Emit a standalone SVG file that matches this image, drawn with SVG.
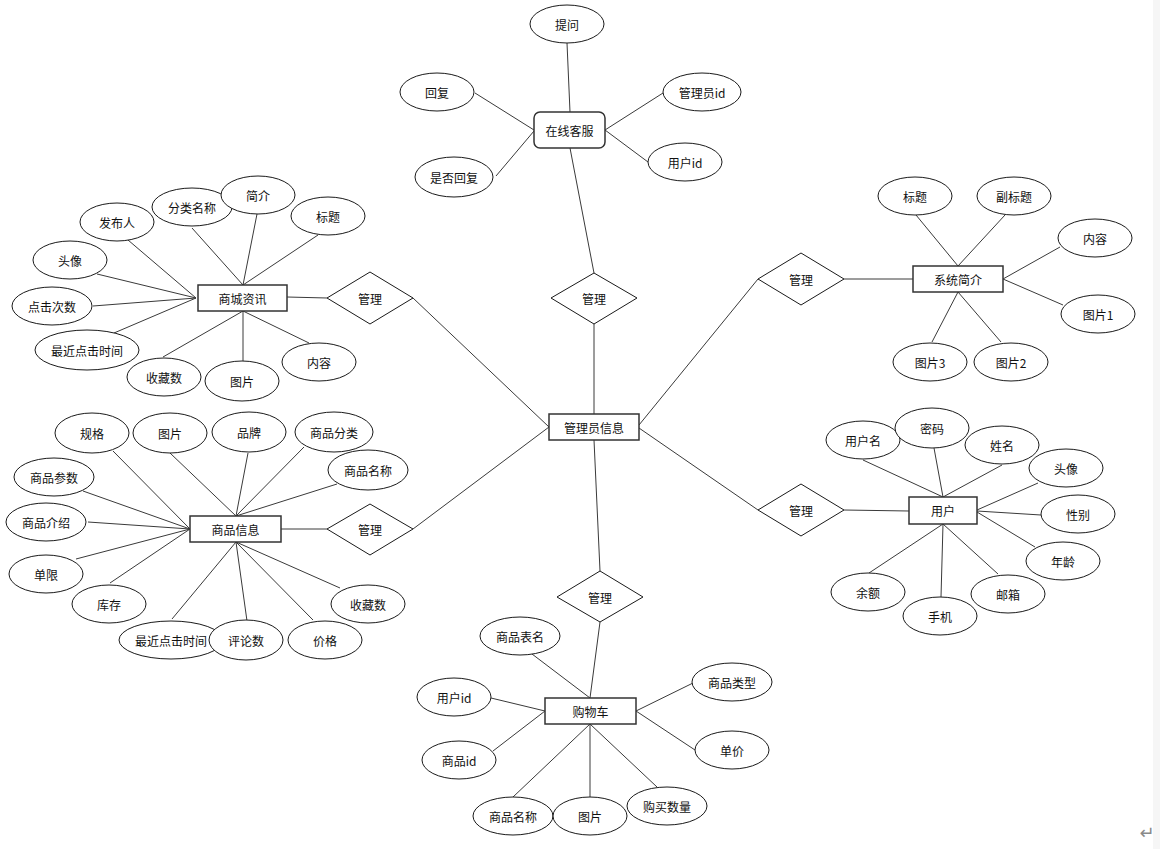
<svg xmlns="http://www.w3.org/2000/svg" width="1160" height="849" viewBox="0 0 1160 849">
<style>
.bg{fill:#ffffff}
.a{fill:#ffffff;stroke:#1a1a1a;stroke-width:1}
.e{fill:#ffffff;stroke:#333333;stroke-width:1.5}
.r{fill:#ffffff;stroke:#1a1a1a;stroke-width:1}
.c line{stroke:#3a3a3a;stroke-width:1}
text{font-family:"Noto Sans CJK SC","Noto Sans",sans-serif;font-size:12px;fill:#111111;text-anchor:middle;dominant-baseline:central}
</style>
<rect class="bg" x="0" y="0" width="1160" height="849"/>
<rect x="1153" y="0" width="7" height="849" fill="#f6f6f6"/>
<g id="connectors" class="c">
<!-- 在线客服 -->
<line x1="567" y1="43" x2="570" y2="112"/>
<line x1="475" y1="93" x2="534" y2="130"/>
<line x1="496" y1="176" x2="534" y2="131"/>
<line x1="663" y1="93" x2="605" y2="130"/>
<line x1="605" y1="130" x2="648" y2="162"/>
<line x1="570" y1="148" x2="594" y2="273"/>
<line x1="594" y1="324" x2="594" y2="414"/>
<!-- 商城资讯 -->
<line x1="128" y1="240" x2="196" y2="298"/>
<line x1="192" y1="228" x2="243" y2="285"/>
<line x1="257" y1="214" x2="243" y2="285"/>
<line x1="318" y1="235" x2="243" y2="285"/>
<line x1="97" y1="274" x2="196" y2="298"/>
<line x1="93" y1="306" x2="196" y2="298"/>
<line x1="114" y1="333" x2="196" y2="298"/>
<line x1="163" y1="357" x2="243" y2="311"/>
<line x1="243" y1="311" x2="243" y2="362"/>
<line x1="243" y1="311" x2="309" y2="343"/>
<line x1="287" y1="297" x2="327" y2="298"/>
<line x1="413" y1="298" x2="549" y2="427"/>
<!-- 商品信息 -->
<line x1="113" y1="451" x2="190" y2="529"/>
<line x1="170" y1="453" x2="236" y2="516"/>
<line x1="248" y1="453" x2="236" y2="516"/>
<line x1="304" y1="447" x2="236" y2="516"/>
<line x1="337" y1="484" x2="236" y2="516"/>
<line x1="83" y1="491" x2="190" y2="529"/>
<line x1="88" y1="522" x2="190" y2="529"/>
<line x1="76" y1="559" x2="190" y2="529"/>
<line x1="110" y1="583" x2="190" y2="529"/>
<line x1="172" y1="619" x2="236" y2="542"/>
<line x1="247" y1="621" x2="236" y2="542"/>
<line x1="313" y1="620" x2="236" y2="542"/>
<line x1="340" y1="588" x2="236" y2="542"/>
<line x1="281" y1="529" x2="327" y2="529"/>
<line x1="413" y1="529" x2="549" y2="427"/>
<!-- 系统简介 -->
<line x1="916" y1="215" x2="958" y2="266"/>
<line x1="1005" y1="215" x2="958" y2="266"/>
<line x1="1060" y1="247" x2="1003" y2="279"/>
<line x1="1063" y1="305" x2="1003" y2="279"/>
<line x1="932" y1="342" x2="958" y2="292"/>
<line x1="1001" y1="342" x2="958" y2="292"/>
<line x1="844" y1="279" x2="913" y2="279"/>
<line x1="758" y1="279" x2="639" y2="425"/>
<!-- 用户 -->
<line x1="863" y1="460" x2="943" y2="497"/>
<line x1="934" y1="448" x2="943" y2="497"/>
<line x1="1002" y1="465" x2="943" y2="497"/>
<line x1="1038" y1="483" x2="977" y2="510"/>
<line x1="1041" y1="515" x2="977" y2="511"/>
<line x1="1035" y1="547" x2="977" y2="512"/>
<line x1="869" y1="573" x2="943" y2="524"/>
<line x1="941" y1="597" x2="943" y2="524"/>
<line x1="998" y1="574" x2="943" y2="524"/>
<line x1="844" y1="510" x2="909" y2="511"/>
<line x1="758" y1="510" x2="639" y2="428"/>
<!-- 购物车 -->
<line x1="594" y1="440" x2="600" y2="571"/>
<line x1="600" y1="622" x2="590" y2="698"/>
<line x1="532" y1="654" x2="590" y2="698"/>
<line x1="491" y1="698" x2="545" y2="711"/>
<line x1="493" y1="751" x2="545" y2="711"/>
<line x1="513" y1="797" x2="590" y2="724"/>
<line x1="590" y1="797" x2="590" y2="724"/>
<line x1="657" y1="787" x2="590" y2="724"/>
<line x1="693" y1="683" x2="636" y2="711"/>
<line x1="695" y1="750" x2="636" y2="711"/>
</g>

<g id="n-admin"><rect class="e" x="549" y="414" width="90" height="26"/><text x="594" y="427">管理员信息</text></g>

<g id="n-kefu"><rect class="e" x="534" y="112" width="71" height="36" rx="6"/><text x="569.5" y="130">在线客服</text></g>
<g id="a-tiwen"><ellipse class="a" cx="567" cy="24" rx="37" ry="19"/><text x="567" y="24">提问</text></g>
<g id="a-huifu"><ellipse class="a" cx="437" cy="92" rx="37" ry="19"/><text x="437" y="92">回复</text></g>
<g id="a-shifouhuifu"><ellipse class="a" cx="454" cy="177" rx="39" ry="20"/><text x="454" y="177">是否回复</text></g>
<g id="a-adminid"><ellipse class="a" cx="702" cy="92" rx="39" ry="19"/><text x="702" y="92">管理员id</text></g>
<g id="a-userid1"><ellipse class="a" cx="685" cy="162" rx="37" ry="19"/><text x="685" y="162">用户id</text></g>
<g id="r-kefu"><polygon class="a" points="551,298 594,273 637,298 594,324"/><text x="594" y="298">管理</text></g>

<g id="n-news"><rect class="e" x="198" y="285" width="89" height="26"/><text x="242.5" y="298">商城资讯</text></g>
<g id="r-news"><polygon class="a" points="327,298 370,272 413,298 370,324"/><text x="370" y="298">管理</text></g>
<g id="a-fabuen"><ellipse class="a" cx="117" cy="222" rx="37" ry="19"/><text x="117" y="222">发布人</text></g>
<g id="a-fenlei"><ellipse class="a" cx="192" cy="207" rx="40" ry="19"/><text x="192" y="207">分类名称</text></g>
<g id="a-jianjie"><ellipse class="a" cx="258" cy="195" rx="37" ry="19"/><text x="258" y="195">简介</text></g>
<g id="a-biaoti1"><ellipse class="a" cx="328" cy="216" rx="37" ry="19"/><text x="328" y="216">标题</text></g>
<g id="a-touxiang1"><ellipse class="a" cx="70" cy="260" rx="37" ry="19"/><text x="70" y="260">头像</text></g>
<g id="a-dianji1"><ellipse class="a" cx="52" cy="306" rx="40" ry="19"/><text x="52" y="306">点击次数</text></g>
<g id="a-zuijin1"><ellipse class="a" cx="87" cy="350" rx="52" ry="20"/><text x="87" y="350">最近点击时间</text></g>
<g id="a-shoucang1"><ellipse class="a" cx="164" cy="377" rx="37" ry="19"/><text x="164" y="377">收藏数</text></g>
<g id="a-tupian1"><ellipse class="a" cx="242" cy="381" rx="37" ry="20"/><text x="242" y="381">图片</text></g>
<g id="a-neirong1"><ellipse class="a" cx="319" cy="362" rx="37" ry="19"/><text x="319" y="362">内容</text></g>

<g id="n-goods"><rect class="e" x="190" y="516" width="91" height="26"/><text x="235.5" y="529">商品信息</text></g>
<g id="r-goods"><polygon class="a" points="327,529 370,504 413,529 370,555"/><text x="370" y="529">管理</text></g>
<g id="a-guige"><ellipse class="a" cx="92" cy="433" rx="37" ry="20"/><text x="92" y="433">规格</text></g>
<g id="a-tupian2"><ellipse class="a" cx="170" cy="433" rx="37" ry="20"/><text x="170" y="433">图片</text></g>
<g id="a-pinpai"><ellipse class="a" cx="249" cy="432" rx="37" ry="20"/><text x="249" y="432">品牌</text></g>
<g id="a-spfenlei"><ellipse class="a" cx="334" cy="432" rx="39" ry="20"/><text x="334" y="432">商品分类</text></g>
<g id="a-spmingcheng"><ellipse class="a" cx="368" cy="470" rx="40" ry="20"/><text x="368" y="470">商品名称</text></g>
<g id="a-spcanshu"><ellipse class="a" cx="54" cy="477" rx="40" ry="19"/><text x="54" y="477">商品参数</text></g>
<g id="a-spjieshao"><ellipse class="a" cx="46" cy="522" rx="40" ry="19"/><text x="46" y="522">商品介绍</text></g>
<g id="a-danxian"><ellipse class="a" cx="46" cy="574" rx="37" ry="19"/><text x="46" y="574">单限</text></g>
<g id="a-kucun"><ellipse class="a" cx="109" cy="604" rx="37" ry="19"/><text x="109" y="604">库存</text></g>
<g id="a-zuijin2"><ellipse class="a" cx="171" cy="640" rx="52" ry="19"/><text x="171" y="640">最近点击时间</text></g>
<g id="a-pinglun"><ellipse class="a" cx="246" cy="640" rx="37" ry="20"/><text x="246" y="640">评论数</text></g>
<g id="a-jiage"><ellipse class="a" cx="325" cy="640" rx="37" ry="19"/><text x="325" y="640">价格</text></g>
<g id="a-shoucang2"><ellipse class="a" cx="368" cy="604" rx="37" ry="19"/><text x="368" y="604">收藏数</text></g>

<g id="n-intro"><rect class="e" x="913" y="266" width="90" height="26"/><text x="958" y="279">系统简介</text></g>
<g id="r-intro"><polygon class="a" points="758,279 801,253 844,279 801,305"/><text x="801" y="279">管理</text></g>
<g id="a-biaoti2"><ellipse class="a" cx="915" cy="196" rx="37" ry="19"/><text x="915" y="196">标题</text></g>
<g id="a-fubiaoti"><ellipse class="a" cx="1014" cy="196" rx="37" ry="19"/><text x="1014" y="196">副标题</text></g>
<g id="a-neirong2"><ellipse class="a" cx="1095" cy="238" rx="37" ry="19"/><text x="1095" y="238">内容</text></g>
<g id="a-tupian_1"><ellipse class="a" cx="1098" cy="314" rx="37" ry="19"/><text x="1098" y="314">图片1</text></g>
<g id="a-tupian_3"><ellipse class="a" cx="930" cy="362" rx="37" ry="19"/><text x="930" y="362">图片3</text></g>
<g id="a-tupian_2"><ellipse class="a" cx="1011" cy="362" rx="37" ry="19"/><text x="1011" y="362">图片2</text></g>

<g id="n-user"><rect class="e" x="909" y="497" width="68" height="27"/><text x="943" y="510.5">用户</text></g>
<g id="r-user"><polygon class="a" points="758,510 801,484 844,510 801,536"/><text x="801" y="510">管理</text></g>
<g id="a-yonghuming"><ellipse class="a" cx="863" cy="440" rx="37" ry="19"/><text x="863" y="440">用户名</text></g>
<g id="a-mima"><ellipse class="a" cx="932" cy="428" rx="37" ry="20"/><text x="932" y="428">密码</text></g>
<g id="a-xingming"><ellipse class="a" cx="1002" cy="445" rx="37" ry="19"/><text x="1002" y="445">姓名</text></g>
<g id="a-touxiang2"><ellipse class="a" cx="1066" cy="468" rx="37" ry="19"/><text x="1066" y="468">头像</text></g>
<g id="a-xingbie"><ellipse class="a" cx="1078" cy="514" rx="37" ry="19"/><text x="1078" y="514">性别</text></g>
<g id="a-nianling"><ellipse class="a" cx="1063" cy="561" rx="37" ry="19"/><text x="1063" y="561">年龄</text></g>
<g id="a-yue"><ellipse class="a" cx="868" cy="592" rx="37" ry="19"/><text x="868" y="592">余额</text></g>
<g id="a-shouji"><ellipse class="a" cx="940" cy="616" rx="37" ry="19"/><text x="940" y="616">手机</text></g>
<g id="a-youxiang"><ellipse class="a" cx="1008" cy="594" rx="37" ry="19"/><text x="1008" y="594">邮箱</text></g>

<g id="n-cart"><rect class="e" x="545" y="698" width="91" height="26"/><text x="590.5" y="711">购物车</text></g>
<g id="r-cart"><polygon class="a" points="557,597 600,571 643,597 600,622"/><text x="600" y="597">管理</text></g>
<g id="a-biaoming"><ellipse class="a" cx="520" cy="636" rx="40" ry="19"/><text x="520" y="636">商品表名</text></g>
<g id="a-userid2"><ellipse class="a" cx="454" cy="697" rx="37" ry="19"/><text x="454" y="697">用户id</text></g>
<g id="a-goodsid"><ellipse class="a" cx="459" cy="760" rx="37" ry="19"/><text x="459" y="760">商品id</text></g>
<g id="a-spmingcheng2"><ellipse class="a" cx="513" cy="816" rx="40" ry="19"/><text x="513" y="816">商品名称</text></g>
<g id="a-tupian3"><ellipse class="a" cx="590" cy="816" rx="37" ry="19"/><text x="590" y="816">图片</text></g>
<g id="a-goumai"><ellipse class="a" cx="667" cy="806" rx="40" ry="19"/><text x="667" y="806">购买数量</text></g>
<g id="a-leixing"><ellipse class="a" cx="732" cy="682" rx="40" ry="19"/><text x="732" y="682">商品类型</text></g>
<g id="a-danjia"><ellipse class="a" cx="732" cy="750" rx="37" ry="19"/><text x="732" y="750">单价</text></g>

<text x="1147" y="832" style="font-family:'DejaVu Sans',sans-serif;font-size:18px;fill:#8a8a8a">↵</text>
</svg>
